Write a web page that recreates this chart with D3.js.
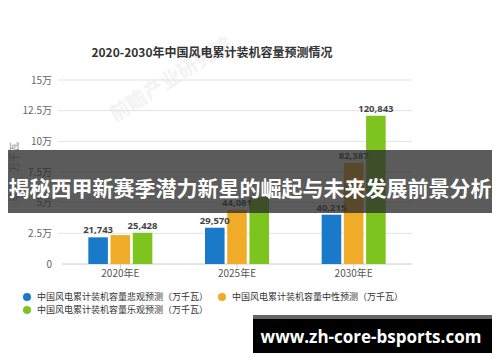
<!DOCTYPE html>
<html>
<head>
<meta charset="utf-8">
<script src="https://cdn.jsdelivr.net/npm/d3@7"></script>
<style>
  body { margin: 0; background: #fff; }
  svg { display: block; font-family: "Noto Sans CJK SC", "Noto Sans", sans-serif; }
</style>
</head>
<body>
<div id="chart"></div>
<script>
const categories = ['2020年E', '2025年E', '2030年E'];
const seriesNames = [
  '中国风电累计装机容量悲观预测（万千瓦）',
  '中国风电累计装机容量中性预测（万千瓦）',
  '中国风电累计装机容量乐观预测（万千瓦）'
];
const pessimistic = [21743, 29570, 40215];
const neutral = [23600, 44081, 82387];
const optimistic = [25428, 54600, 120843];
// per series: which value labels the original shows (overlapping ones are left out)
const showLabel = [[true, true, true], [false, true, true], [true, false, true]];
const yTicks = [0, 25000, 50000, 75000, 100000, 125000, 150000];
const colors = ['#1a79c9', '#f0ac28', '#7dc41f'];

const W = 500, H = 362;
const svg = d3.select('#chart').append('svg').attr('width', W).attr('height', H);

const x = d3.scaleBand().domain(categories).range([62, 412]);
const xs = d3.scaleBand().domain(d3.range(3)).range([0, 64]).paddingInner(0.12);
const y = d3.scaleLinear().domain([0, 150000]).range([264, 80]);

// faint watermark
svg.append('text')
  .attr('transform', 'translate(115,122) rotate(-32)')
  .attr('font-size', 20).attr('font-weight', 'bold')
  .attr('fill', '#f3f3f3')
  .text('前瞻产业研究院');

// title
svg.append('text')
  .attr('x', 212).attr('y', 57)
  .attr('text-anchor', 'middle')
  .attr('font-size', 12).attr('font-weight', 'bold')
  .attr('fill', '#333')
  .text('2020-2030年中国风电累计装机容量预测情况');

// grid + y labels
svg.append('g').selectAll('line')
  .data(yTicks.filter(d => d > 0))
  .join('line')
  .attr('x1', 58).attr('x2', 412)
  .attr('y1', d => y(d)).attr('y2', d => y(d))
  .attr('stroke', '#e3e3e3');

svg.append('g').selectAll('text')
  .data(yTicks)
  .join('text')
  .attr('x', 52).attr('y', d => y(d) + 3.5)
  .attr('text-anchor', 'end')
  .attr('font-size', 10).attr('fill', '#666')
  .text(d => d === 0 ? '0' : (d / 10000) + '万');

svg.append('text')
  .attr('transform', 'translate(18,172) rotate(-90)')
  .attr('text-anchor', 'middle')
  .attr('font-size', 10).attr('fill', '#888')
  .text('单位：万千瓦');

// x axis
svg.append('line')
  .attr('x1', 62).attr('x2', 412).attr('y1', 264).attr('y2', 264)
  .attr('stroke', '#ccc');
svg.append('g').selectAll('line')
  .data(categories)
  .join('line')
  .attr('x1', d => x(d) + x.bandwidth() / 2).attr('x2', d => x(d) + x.bandwidth() / 2)
  .attr('y1', 264).attr('y2', 268)
  .attr('stroke', '#ccc');
svg.append('g').selectAll('text')
  .data(categories)
  .join('text')
  .attr('x', d => x(d) + x.bandwidth() / 2).attr('y', 277)
  .attr('text-anchor', 'middle')
  .attr('font-size', 10).attr('fill', '#555')
  .text(d => d);

// bars
const series = [pessimistic, neutral, optimistic];
const rows = [];
series.forEach((vals, s) => vals.forEach((v, i) => rows.push({ s, i, v })));
const groupOffset = (x.bandwidth() - 64) / 2;

svg.append('g').selectAll('rect')
  .data(rows)
  .join('rect')
  .attr('x', d => x(categories[d.i]) + groupOffset + xs(d.s))
  .attr('width', xs.bandwidth())
  .attr('y', d => y(d.v))
  .attr('height', d => y(0) - y(d.v))
  .attr('fill', d => colors[d.s]);

svg.append('g').selectAll('text')
  .data(rows.filter(d => showLabel[d.s][d.i]))
  .join('text')
  .attr('x', d => x(categories[d.i]) + groupOffset + xs(d.s) + xs.bandwidth() / 2)
  .attr('y', d => y(d.v) - 4)
  .attr('text-anchor', 'middle')
  .attr('font-family', '"Open Sans", sans-serif')
  .attr('font-size', 9.5).attr('font-weight', 'bold')
  .attr('fill', '#444')
  .text(d => d3.format(',')(d.v));

// legend
const legendPos = [[27, 297], [222, 297], [27, 310]];
const lg = svg.append('g').selectAll('g')
  .data(seriesNames)
  .join('g')
  .attr('transform', (d, i) => `translate(${legendPos[i][0]},${legendPos[i][1]})`);
lg.append('circle').attr('r', 4).attr('fill', (d, i) => colors[i]);
lg.append('text')
  .attr('x', 10).attr('y', 3.2)
  .attr('font-size', 9).attr('fill', '#333')
  .text(d => d);

// overlay banner
svg.append('rect')
  .attr('x', 8).attr('y', 150).attr('width', 484).attr('height', 63)
  .attr('fill', 'rgba(45,45,45,0.78)');
svg.append('text')
  .attr('x', 250).attr('y', 196)
  .attr('text-anchor', 'middle')
  .attr('font-size', 21).attr('font-weight', 'bold')
  .attr('fill', '#fff')
  .text('揭秘西甲新赛季潜力新星的崛起与未来发展前景分析');

// url box
svg.append('rect')
  .attr('x', 253).attr('y', 315).attr('width', 239).attr('height', 38)
  .attr('fill', '#000');
svg.append('rect')
  .attr('x', 253).attr('y', 315).attr('width', 239).attr('height', 4)
  .attr('fill', '#666');
svg.append('text')
  .attr('x', 371).attr('y', 343)
  .attr('text-anchor', 'middle')
  .attr('font-family', '"Open Sans", sans-serif')
  .attr('font-size', 17).attr('font-weight', 'bold')
  .attr('fill', '#fff')
  .text('www.zh-core-bsports.com');
</script>
</body>
</html>
